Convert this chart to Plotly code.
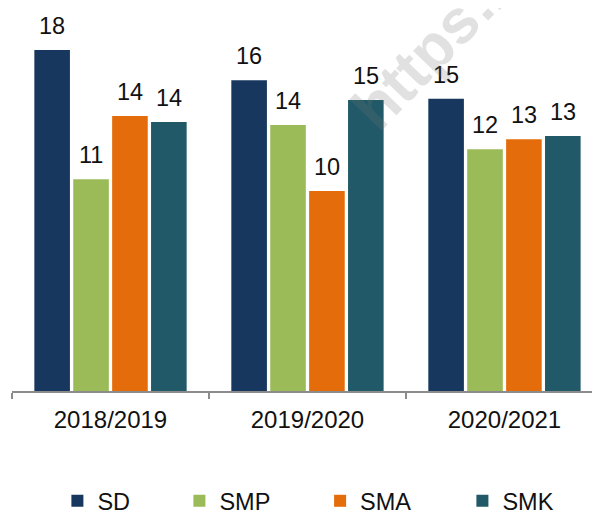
import plotly.graph_objects as go

years = ["2018/2019", "2019/2020", "2020/2021"]
series_names = ["SD", "SMP", "SMA", "SMK"]
sd = [17.56, 16.00, 15.04]
smp = [10.90, 13.70, 12.45]
sma = [14.16, 10.30, 12.96]
smk = [13.85, 14.98, 13.13]
colors = ["#17375E", "#9BBB59", "#E46C0A", "#215968"]

series_values = [sd, smp, sma, smk]
legend_ids = ["legend", "legend2", "legend3", "legend4"]
legend_x = [0.0772, 0.2847, 0.5240, 0.7660]

FONT = "Liberation Sans, Arial, sans-serif"
# the page body adds an 8px offset, so the figure is sized to fit the 600x511 window
W, H = 592, 503
ML, MR, MT, MB = 4, 0, 12, 120
XRANGE = [-0.5, 2.485]
BARGAP, GROUPGAP = 0.21, 0.085

cat_px = (W - ML - MR) / (XRANGE[1] - XRANGE[0])
slot_px = cat_px * (1 - BARGAP) / len(series_names)

fig = go.Figure()
annotations = []
for i, (name, vals, col, lid) in enumerate(zip(series_names, series_values, colors, legend_ids)):
    fig.add_trace(go.Bar(
        x=years, y=vals, name=name, legend=lid,
        marker=dict(color=col, line=dict(width=0)),
        cliponaxis=False,
    ))
    for yr, v in zip(years, vals):
        annotations.append(dict(
            x=yr, y=v, xref="x", yref="y", text=f"{v:.0f}",
            xshift=(i - (len(series_names) - 1) / 2) * slot_px,
            yshift=9, xanchor="center", yanchor="bottom", showarrow=False,
            font=dict(family=FONT, size=23.5, color="#111111"),
        ))

annotations.append(dict(
    text="<b>https://</b>", xref="paper", yref="paper",
    x=0.7195, y=0.933, xanchor="center", yanchor="middle",
    showarrow=False, textangle=-46,
    font=dict(family=FONT, size=62, color="rgba(120,120,120,0.22)"),
))

layout_legends = {}
for lid, lx in zip(legend_ids, legend_x):
    layout_legends[lid] = dict(
        x=lx, y=-0.2965, xanchor="left", yanchor="middle",
        orientation="h", bgcolor="rgba(0,0,0,0)",
        font=dict(family=FONT, size=23.5, color="#111111"),
    )

fig.update_layout(
    width=W, height=H,
    margin=dict(l=ML, r=MR, t=MT, b=MB, autoexpand=False),
    paper_bgcolor="white", plot_bgcolor="white",
    barmode="group", bargap=BARGAP, bargroupgap=GROUPGAP,
    font=dict(family=FONT, size=22, color="#111111"),
    showlegend=True,
    xaxis=dict(
        type="category", range=XRANGE, automargin=False,
        tickson="boundaries", ticks="outside", ticklen=6, tickwidth=1.5,
        tickcolor="#8c8c8c", showline=True, linecolor="#8c8c8c", linewidth=1.5,
        showgrid=False, tickfont=dict(family=FONT, size=24, color="#111111"),
        ticklabelstandoff=6, fixedrange=True,
    ),
    yaxis=dict(range=[0, 19.10], visible=False, fixedrange=True, automargin=False),
    annotations=annotations,
    **layout_legends,
)

fig.write_html("out.html")
